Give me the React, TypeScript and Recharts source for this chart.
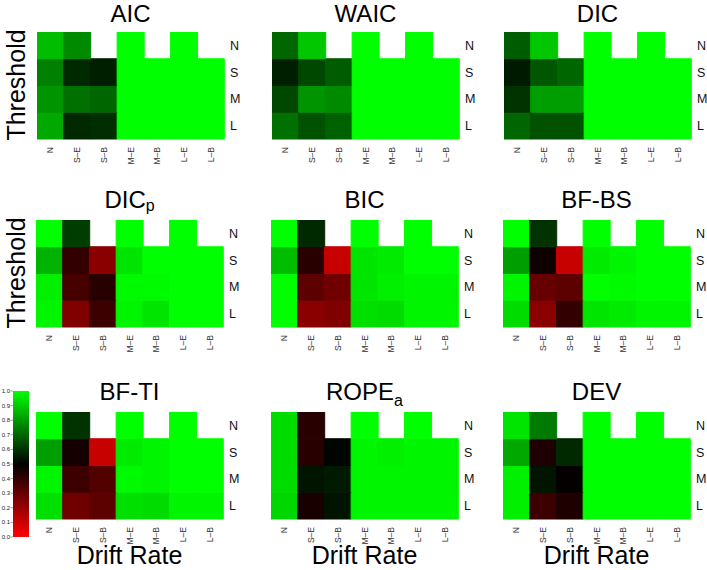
import React from 'react';
import { BarChart, Bar, XAxis, YAxis, Cell } from 'recharts';

// Categories
const driftRates = ['N', 'S–E', 'S–B', 'M–E', 'M–B', 'L–E', 'L–B'];
const thresholds = ['N', 'S', 'M', 'L'];
const colorbarTicks = ['0.0', '0.1', '0.2', '0.3', '0.4', '0.5', '0.6', '0.7', '0.8', '0.9', '1.0'];

// Values (rows: N, S, M, L; columns: driftRates)
const aicValues = [
  [0.87, 0.77, null, 1, null, 1, null],
  [0.75, 0.58, 0.56, 1, 1, 1, 1],
  [0.79, 0.72, 0.70, 1, 1, 1, 1],
  [0.83, 0.58, 0.59, 1, 1, 1, 1],
];
const waicValues = [
  [0.70, 0.89, null, 1, null, 1, null],
  [0.56, 0.64, 0.68, 1, 1, 1, 1],
  [0.64, 0.79, 0.77, 1, 1, 1, 1],
  [0.72, 0.66, 0.69, 1, 1, 1, 1],
];
const dicValues = [
  [0.68, 0.89, null, 1, null, 1, null],
  [0.55, 0.67, 0.70, 1, 1, 1, 1],
  [0.60, 0.81, 0.81, 1, 1, 1, 1],
  [0.70, 0.66, 0.66, 1, 1, 1, 1],
];
const dicpValues = [
  [1.0, 0.62, null, 1, null, 1, null],
  [0.85, 0.40, 0.23, 0.95, 1, 1, 1],
  [0.97, 0.36, 0.42, 0.99, 0.99, 1, 1],
  [0.98, 0.25, 0.38, 0.98, 0.95, 1, 1],
];
const bicValues = [
  [1.0, 0.58, null, 1, null, 1, null],
  [0.87, 0.42, 0.11, 0.95, 0.96, 1, 1],
  [1.0, 0.32, 0.28, 0.95, 0.97, 0.98, 0.98],
  [1.0, 0.23, 0.25, 0.94, 0.93, 0.98, 0.98],
];
const bfbsValues = [
  [1.0, 0.60, null, 1, null, 1, null],
  [0.81, 0.47, 0.11, 0.96, 0.98, 1, 1],
  [0.98, 0.30, 0.32, 1, 0.99, 1, 1],
  [0.93, 0.23, 0.40, 0.95, 0.96, 0.98, 0.98],
];
const bftiValues = [
  [1.0, 0.60, null, 1, null, 1, null],
  [0.81, 0.46, 0.11, 0.96, 0.98, 1, 1],
  [0.98, 0.38, 0.34, 0.99, 0.98, 1, 1],
  [0.94, 0.28, 0.32, 0.94, 0.93, 0.98, 0.98],
];
const ropeValues = [
  [0.93, 0.42, null, 1, null, 1, null],
  [0.93, 0.42, 0.51, 0.98, 0.97, 0.98, 0.98],
  [0.93, 0.54, 0.55, 0.98, 0.98, 0.98, 0.98],
  [0.92, 0.45, 0.54, 0.98, 0.98, 0.98, 0.98],
];
const devValues = [
  [0.95, 0.74, null, 1, null, 1, null],
  [0.83, 0.44, 0.58, 1, 1, 1, 1],
  [0.97, 0.54, 0.49, 1, 1, 1, 1],
  [0.97, 0.38, 0.44, 1, 1, 1, 1],
];

const FONT = '"Liberation Sans", Arial, Helvetica, sans-serif';
const PW = 187;
const PH = 107;

function cellColor(v: number): string {
  if (v >= 0.5) {
    const g = Math.round(Math.min(1, (v - 0.5) * 2) * 255);
    return `rgb(0,${g},0)`;
  }
  const r = Math.round(Math.min(1, (0.5 - v) * 2) * 255);
  return `rgb(${r},0,0)`;
}

type PanelDef = { title: string; sub?: string; subDy?: number; values: (number | null)[][]; left: number; top: number };

const panels: PanelDef[] = [
  { title: 'AIC', values: aicValues, left: 37, top: 32 },
  { title: 'WAIC', values: waicValues, left: 272, top: 32 },
  { title: 'DIC', values: dicValues, left: 504, top: 32 },
  { title: 'DIC', sub: 'p', subDy: 3, values: dicpValues, left: 36, top: 220 },
  { title: 'BIC', values: bicValues, left: 271, top: 220 },
  { title: 'BF-BS', values: bfbsValues, left: 503, top: 220 },
  { title: 'BF-TI', values: bftiValues, left: 36, top: 412 },
  { title: 'ROPE', sub: 'a', subDy: 6, values: ropeValues, left: 271, top: 412 },
  { title: 'DEV', values: devValues, left: 503, top: 412 },
];

const XTick = (props: any) => {
  const { x, y, payload } = props;
  return (
    <text
      x={x}
      y={y}
      transform={`rotate(-90 ${x} ${y})`}
      textAnchor="end"
      dominantBaseline="central"
      fontSize={8.5}
      fill="#333"
      fontFamily={FONT}
    >
      {payload.value}
    </text>
  );
};

function Heatmap({ values, left, top }: { values: (number | null)[][]; left: number; top: number }) {
  const data = driftRates.map((c, i) => {
    const row: any = { col: c };
    thresholds.forEach((t, r) => {
      row[t] = values[r][i] == null ? null : 1;
    });
    return row;
  });
  const stackOrder = [...thresholds].reverse();
  return (
    <div style={{ position: 'absolute', left, top }}>
      <BarChart
        width={PW + 22}
        height={PH + 32}
        data={data}
        margin={{ top: 0, right: 0, bottom: 0, left: 0 }}
        barCategoryGap={0}
        barGap={0}
      >
        <XAxis
          dataKey="col"
          type="category"
          interval={0}
          tickLine={false}
          axisLine={false}
          height={32}
          tickSize={0}
          tickMargin={8}
          tick={<XTick />}
        />
        <YAxis
          orientation="right"
          type="number"
          domain={[0, 4]}
          ticks={[0.5, 1.5, 2.5, 3.5]}
          tickFormatter={(v: number) => thresholds[3 - Math.floor(v)]}
          width={22}
          tickLine={false}
          axisLine={false}
          tickSize={0}
          tickMargin={6}
          tick={{ fontSize: 12.5, fill: '#111', fontFamily: FONT }}
        />
        {stackOrder.map((t) => {
          const r = thresholds.indexOf(t);
          return (
            <Bar key={t} dataKey={t} stackId="h" isAnimationActive={false}>
              {values[r].map((v, i) => (
                <Cell
                  key={i}
                  fill={v == null ? 'none' : cellColor(v)}
                  stroke={v == null ? 'none' : cellColor(v)}
                  strokeWidth={1}
                />
              ))}
            </Bar>
          );
        })}
      </BarChart>
    </div>
  );
}

export default function App() {
  const cbTop = 391;
  const cbH = 146;
  return (
    <div style={{ position: 'absolute', left: 0, top: 0, width: 707, height: 570, background: '#fff', overflow: 'hidden' }}>
      <svg width={707} height={570} style={{ position: 'absolute', left: 0, top: 0 }} fontFamily={FONT}>
        <defs>
          <linearGradient id="rbg" x1="0" y1="1" x2="0" y2="0">
            <stop offset="0%" stopColor="#ff0000" />
            <stop offset="50%" stopColor="#000000" />
            <stop offset="100%" stopColor="#00ff00" />
          </linearGradient>
        </defs>
        {panels.map((p, k) => (
          <text key={k} x={p.left + PW / 2} y={Math.max(22, p.top - 12.5)} fontSize={24} textAnchor="middle" fill="#000">
            {p.title}
            {p.sub ? (
              <tspan fontSize={16} dy={p.subDy}>
                {p.sub}
              </tspan>
            ) : null}
          </text>
        ))}
        <text transform="translate(25,85) rotate(-90)" fontSize={25} textAnchor="middle" fill="#000">Threshold</text>
        <text transform="translate(25,273) rotate(-90)" fontSize={25} textAnchor="middle" fill="#000">Threshold</text>
        {[36, 271, 503].map((lx, k) => (
          <text key={k} x={lx + PW / 2} y={564} fontSize={25} textAnchor="middle" fill="#000">Drift Rate</text>
        ))}
        <rect x={13} y={cbTop} width={16} height={cbH} fill="url(#rbg)" />
        {colorbarTicks.map((t, i) => {
          const y = cbTop + cbH - (i * cbH) / 10;
          return (
            <g key={t}>
              <line x1={10.5} x2={13} y1={y} y2={y} stroke="#444" strokeWidth={0.5} />
              <text x={10} y={y} fontSize={6} textAnchor="end" dominantBaseline="central" fill="#222">{t}</text>
            </g>
          );
        })}
      </svg>
      {panels.map((p, k) => (
        <Heatmap key={k} values={p.values} left={p.left} top={p.top} />
      ))}
    </div>
  );
}
